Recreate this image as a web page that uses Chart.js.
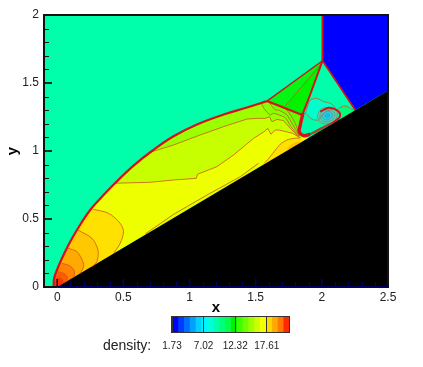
<!DOCTYPE html>
<html lang="en">
<head>
    <meta charset="UTF-8">
    <title>Density contours</title>
    <script src="https://cdn.jsdelivr.net/npm/chart.js"></script>
    <style>
        html, body { margin: 0; padding: 0; background: #fff; }
        #wrap { position: relative; width: 423px; height: 367px; overflow: hidden; filter: blur(0.35px); }
        #flowChart { position: absolute; left: 0; top: 0; }
        #barChart { position: absolute; left: 150px; top: 310px; }
        #barTitle { position: absolute; left: 103px; top: 337px; font: 14px "Liberation Sans", sans-serif; color: #222; }
    </style>
</head>
<body>
<div id="wrap">
    <canvas id="flowChart" width="423" height="367"></canvas>
    <canvas id="barChart" width="170" height="50"></canvas>
    <div id="barTitle">density:</div>
</div>
<script>
    // axis values
    const xTickValues = [0, 0.5, 1, 1.5, 2, 2.5];
    const yTickValues = [0, 0.5, 1, 1.5, 2];
    const xMinorTicks = [0.1, 0.2, 0.3, 0.4, 0.6, 0.7, 0.8, 0.9, 1.1, 1.2, 1.3, 1.4, 1.6, 1.7, 1.8, 1.9, 2.1, 2.2, 2.3, 2.4];
    const yMinorTicks = [0.1, 0.2, 0.3, 0.4, 0.6, 0.7, 0.8, 0.9, 1.1, 1.2, 1.3, 1.4, 1.6, 1.7, 1.8, 1.9];

    // colour bar
    const barEdges = [1.73, 2.71, 3.69, 4.67, 5.65, 6.63, 7.61, 8.59, 9.57, 10.55, 11.53, 12.51, 13.49, 14.47, 15.45, 16.43, 17.41, 18.39, 19.37, 20.35, 21.33];
    const barColors = ['#0000ff', '#003cff', '#006eff', '#00a0ff', '#00d2ff', '#00f5ff', '#00ffdc', '#00ffaa', '#00ff78', '#00ff46',
        '#00f000', '#3cff00', '#6eff00', '#a0ff00', '#cdff00', '#f5ff00', '#ffd700', '#ffaa00', '#ff7800', '#ff2800'];
    const barTicks = [1.73, 7.02, 12.32, 17.61];

    // shock lines as [x, y]
    const bowShock = [[-0.028, 0], [-0.023, 0.064], [-0.002, 0.125], [0.036, 0.211], [0.085, 0.309], [0.149, 0.419], [0.249, 0.566], [0.35, 0.676], [0.438, 0.765], [0.577, 0.893], [0.716, 1.0], [0.879, 1.108], [1.056, 1.195], [1.257, 1.268], [1.434, 1.32], [1.585, 1.367]];
    const machStem = [[2.005, 2], [2.005, 1.664]];
    const upperShock = [[1.585, 1.367], [2.005, 1.664]];
    const rightShock = [[2.005, 1.664], [2.252, 1.301]];
    const reflectedShock = [[1.585, 1.367], [1.852, 1.265]];
    const slipUpper = [[2.005, 1.664], [1.91, 1.41], [1.858, 1.28]];
    const slipLower = [[1.858, 1.28], [1.837, 1.191], [1.829, 1.142], [1.862, 1.113], [1.912, 1.123]];
    const slipTail = [[1.912, 1.123], [2.001, 1.169], [2.076, 1.204]];
    const vortexArc = [[2.076, 1.204], [2.126, 1.24], [2.139, 1.265], [2.114, 1.301], [2.051, 1.318], [1.988, 1.289]];

    // contour lines
    const contour1 = [[0.716, 0.995], [0.879, 1.044], [1.081, 1.118], [1.257, 1.179], [1.434, 1.235], [1.509, 1.24], [1.572, 1.24], [1.605, 1.252], [1.623, 1.215], [1.66, 1.232], [1.71, 1.224], [1.761, 1.167], [1.824, 1.105]];
    const contour2 = [[0.438, 0.763], [0.703, 0.77], [0.879, 0.787], [1.051, 0.799], [1.06, 0.829], [1.207, 0.885], [1.333, 0.971], [1.484, 1.093], [1.572, 1.147], [1.59, 1.167], [1.615, 1.123], [1.648, 1.154], [1.678, 1.154], [1.779, 1.13], [1.837, 1.096]];
    const contour3 = [[1.837, 1.096], [1.786, 1.093], [1.736, 1.081], [1.686, 1.05], [1.597, 0.944], [1.565, 0.91]];
    const fan1 = [[1.648, 1.343], [1.686, 1.333], [1.736, 1.301], [1.786, 1.228], [1.837, 1.113]];
    const fan2 = [[1.6, 1.36], [1.648, 1.301], [1.673, 1.301], [1.736, 1.265], [1.774, 1.204], [1.832, 1.11]];
    const fan3 = [[1.54, 1.35], [1.572, 1.301], [1.61, 1.265], [1.635, 1.277], [1.723, 1.245], [1.767, 1.179], [1.829, 1.108]];
    const sliver = [[0.665, 0.39], [0.879, 0.534], [1.131, 0.676], [1.383, 0.811], [1.522, 0.91]];
    const arc1 = [[0.274, 0.571], [0.388, 0.542], [0.476, 0.468], [0.501, 0.407], [0.476, 0.322], [0.426, 0.246]];
    const arc2 = [[0.156, 0.419], [0.262, 0.358], [0.308, 0.272], [0.3, 0.186], [0.262, 0.149]];
    const arc3 = [[0.078, 0.285], [0.149, 0.26], [0.194, 0.186], [0.199, 0.149], [0.174, 0.1]];
    const arc4 = [[0.036, 0.174], [0.098, 0.154], [0.131, 0.113], [0.123, 0.071]];
    const arc5 = [[0.002, 0.113], [0.048, 0.101], [0.078, 0.071], [0.068, 0.039]];
    const arc6 = [[-0.008, 0.064], [0.023, 0.064], [0.048, 0.039], [0.036, 0.021]];
    const greenContour = [[1.723, 1.331], [2.0, 1.645]];
    const sideContour = [[2.126, 1.314], [2.177, 1.331], [2.24, 1.301]];

    // closed regions
    const leftWall = [[-0.1, 0], [-0.1, 2], [2.5, 2], [2.5, 0]];
    const preShock = [[2.005, 2], [2.5, 2], [2.5, 1.443], [2.252, 1.301], [2.005, 1.664]];
    const greenWedge = [[1.585, 1.367], [2.005, 1.664], [1.852, 1.265]];
    const greenUpper = [[1.585, 1.367], [2.005, 1.664], [1.723, 1.331]];
    const innerZone = [[2.005, 1.664], [2.252, 1.301], [2.1, 1.212], [1.95, 1.125], [1.862, 1.113], [1.829, 1.142], [1.837, 1.191], [1.858, 1.28], [1.91, 1.41]];
    const cyanPatch = [[1.875, 1.279], [1.912, 1.375], [1.963, 1.387], [2.013, 1.363], [2.063, 1.351], [2.101, 1.316], [2.025, 1.287], [1.973, 1.228], [1.927, 1.233]];
    const sidePatch = [[2.126, 1.314], [2.177, 1.331], [2.24, 1.301], [2.252, 1.301], [2.14, 1.235], [2.139, 1.265]];
    const underPatch = [[1.862, 1.113], [1.912, 1.123], [2.001, 1.169], [2.076, 1.204], [2.126, 1.24], [2.14, 1.235], [1.95, 1.125]];
    const hotSpot = [[1.731, 1.015], [1.761, 1.044], [1.806, 1.066], [1.837, 1.066], [1.784, 1.015]];
    const loop1 = [[1.965, 1.25], [1.988, 1.301], [2.041, 1.32], [2.093, 1.309], [2.116, 1.272], [2.101, 1.228], [2.048, 1.202], [1.995, 1.206]];
    const loop2 = [[1.984, 1.253], [2.002, 1.292], [2.041, 1.305], [2.08, 1.297], [2.098, 1.268], [2.086, 1.235], [2.046, 1.216], [2.006, 1.22]];
    const loop3 = [[2.003, 1.255], [2.015, 1.28], [2.041, 1.29], [2.067, 1.285], [2.079, 1.266], [2.071, 1.244], [2.044, 1.231], [2.018, 1.233]];
    const loop4 = [[2.022, 1.258], [2.028, 1.27], [2.041, 1.275], [2.054, 1.272], [2.06, 1.263], [2.056, 1.252], [2.043, 1.246], [2.03, 1.247]];
    const wedge = [[0, 0], [2.5, 1.443], [2.5, 0]];

    // polygon under a contour: contour, down to the wall, back to the apex and up the bow shock
    function underContour(line, wallEnd) {
        const lowerBow = bowShock.filter(p => p[1] < line[0][1]);
        return [...line, ...wallEnd, [0, 0], ...lowerBow];
    }

    const toPoints = pts => pts.map(p => ({ x: p[0], y: p[1] }));
    const lineRed = '#d8101c';
    const contourColor = 'rgba(205,85,35,0.8)';
    const wallEnd = [[1.9, 1.097]];
    const postShock = [...bowShock, [1.852, 1.265], [1.837, 1.191], [1.829, 1.142], [1.862, 1.113], [1.9, 1.097], [0, 0]];

    // back to front: points, colour, tension
    const fills = [
        [leftWall, '#00ffaa', 0],
        [preShock, '#0000ff', 0],
        [postShock, '#60ff00', 0],
        [greenWedge, '#00f200', 0],
        [greenUpper, '#04f614', 0],
        [underContour(fan1, wallEnd), '#74ff00', 0],
        [underContour(fan2, wallEnd), '#86ff00', 0],
        [underContour(fan3, wallEnd), '#9cff00', 0],
        [underContour(contour1, wallEnd), '#c8ff00', 0],
        [underContour(contour2, wallEnd), '#eeff00', 0],
        [[...contour3, [1.9, 1.05]], '#ffe100', 0],
        [[...sliver, [1.52, 0.85], [0.665, 0.36]], '#dcff00', 0],
        [hotSpot, '#ffc000', 0],
        [underContour(arc1, []), '#ffe100', 0.3],
        [underContour(arc2, []), '#ffc800', 0.3],
        [underContour(arc3, []), '#ffaa00', 0.3],
        [underContour(arc4, []), '#ff8200', 0.3],
        [underContour(arc5, []), '#ff5a00', 0.3],
        [underContour(arc6, []), '#ff3000', 0.3],
        [innerZone, '#00ffaa', 0],
        [cyanPatch, '#00ffcc', 0.2],
        [sidePatch, '#00ff78', 0],
        [underPatch, '#00dc3c', 0],
        [loop1, '#46d8a8', 0.4],
        [loop2, '#3cd2c0', 0.4],
        [loop3, '#28d2e0', 0.4],
        [loop4, '#00c8ff', 0.4],
        [wedge, '#000000', 0]
    ];
    // points, colour, width, tension
    const lines = [
        [contour1, contourColor, 1, 0], [contour2, contourColor, 1, 0], [contour3, contourColor, 1, 0.2],
        [fan1, contourColor, 1, 0.2], [fan2, contourColor, 1, 0.2], [fan3, contourColor, 1, 0.2], [sliver, contourColor, 1, 0],
        [arc1, contourColor, 1, 0.3], [arc2, contourColor, 1, 0.3], [arc3, contourColor, 1, 0.3], [arc4, contourColor, 1, 0.3], [arc5, contourColor, 1, 0.3], [arc6, contourColor, 1, 0.3],
        [greenContour, contourColor, 1, 0], [sideContour, contourColor, 1, 0.3],
        [[...cyanPatch, cyanPatch[0]], contourColor, 1, 0.2],
        [[...loop1, loop1[0]], '#6e9e84', 1, 0.4], [[...loop2, loop2[0]], '#6e9e94', 1, 0.4], [[...loop3, loop3[0]], '#5e9ea4', 1, 0.4], [[...loop4, loop4[0]], '#4e9eb4', 1, 0.4],
        [bowShock, lineRed, 2.2, 0.4], [machStem, lineRed, 2, 0], [upperShock, lineRed, 1.4, 0], [rightShock, lineRed, 1.6, 0],
        [reflectedShock, lineRed, 2.2, 0], [slipUpper, lineRed, 2, 0.2], [slipLower, lineRed, 3.4, 0.3], [slipTail, 'rgba(216,16,28,0.8)', 2, 0.2], [vortexArc, lineRed, 2, 0.3]
    ];

    const fillSets = fills.map(f => ({
        data: toPoints([...f[0], f[0][0]]),
        showLine: true, fill: 'shape', backgroundColor: f[1], borderWidth: 0, pointRadius: 0, tension: f[2]
    }));
    const lineSets = lines.map(l => ({
        data: toPoints(l[0]),
        showLine: true, fill: false, borderColor: l[1], borderWidth: l[2], pointRadius: 0, tension: l[3]
    }));
    // Chart.js paints dataset 0 last, so reverse
    const flowSets = [...fillSets, ...lineSets].reverse();

    // inward ticks and the frame
    const framePlugin = {
        id: 'frame',
        afterDatasetsDraw(chart) {
            const { ctx, chartArea: a, scales: { x, y } } = chart;
            const seg = (x1, y1, x2, y2, color, width) => {
                ctx.strokeStyle = color;
                ctx.lineWidth = width;
                ctx.beginPath();
                ctx.moveTo(x1, y1);
                ctx.lineTo(x2, y2);
                ctx.stroke();
            };
            ctx.save();
            yMinorTicks.forEach(v => { const p = Math.round(y.getPixelForValue(v)) + 0.5; seg(a.left, p, a.left + 5, p, '#111', 1); });
            yTickValues.forEach(v => { const p = y.getPixelForValue(v); seg(a.left, p, a.left + 8, p, '#000', 1.6); });
            xMinorTicks.forEach(v => { const p = Math.round(x.getPixelForValue(v)) + 0.5; seg(p, a.bottom, p, a.bottom - 5, '#000080', 1); });
            xTickValues.forEach(v => { const p = x.getPixelForValue(v); seg(p, a.bottom, p, a.bottom - 8, v === 0 ? '#000' : '#000080', 1.4); });
            const zero = x.getPixelForValue(0);
            seg(a.left - 1, a.top, a.right + 1, a.top, '#111', 2);
            seg(a.left, a.top, a.left, a.bottom, '#111', 2);
            seg(a.right, a.top, a.right, a.bottom, '#111', 2);
            seg(a.left - 1, a.bottom, zero, a.bottom, '#111', 2);
            seg(zero, a.bottom, a.right + 1, a.bottom, '#000060', 2);
            ctx.restore();
        }
    };

    new Chart(document.getElementById('flowChart'), {
        type: 'scatter',
        data: { datasets: flowSets },
        plugins: [framePlugin],
        options: {
            responsive: false,
            animation: false,
            events: [],
            layout: { padding: { left: 4, right: 35, top: 15, bottom: 50 } },
            plugins: { legend: { display: false }, tooltip: { enabled: false } },
            scales: {
                x: {
                    type: 'linear', min: -0.1, max: 2.5,
                    afterBuildTicks: s => { s.ticks = xTickValues.map(v => ({ value: v })); },
                    afterFit: s => { s.height = 30; },
                    grid: { display: false, drawTicks: false },
                    border: { display: false },
                    ticks: { color: '#222', font: { family: 'Liberation Sans', size: 12 }, padding: 3, maxRotation: 0, callback: v => String(v) },
                    title: { display: true, text: 'x', color: '#000', padding: 0, font: { family: 'Liberation Sans', size: 15, weight: 'bold' } }
                },
                y: {
                    type: 'linear', min: 0, max: 2,
                    afterBuildTicks: s => { s.ticks = yTickValues.map(v => ({ value: v })); },
                    afterFit: s => { s.width = 40; },
                    grid: { display: false, drawTicks: false },
                    border: { display: false },
                    ticks: { color: '#222', font: { family: 'Liberation Sans', size: 12 }, padding: 5, callback: v => String(v) },
                    title: { display: true, text: 'y', color: '#000', padding: 0, font: { family: 'Liberation Sans', size: 15, weight: 'bold' } }
                }
            }
        }
    });

    const barFrame = {
        id: 'barFrame',
        afterDraw(chart) {
            const { ctx, chartArea: a } = chart;
            ctx.save();
            ctx.strokeStyle = '#333';
            ctx.lineWidth = 1;
            ctx.strokeRect(a.left - 0.5, a.top - 0.5, a.right - a.left + 1, a.bottom - a.top + 1);
            ctx.restore();
        }
    };

    new Chart(document.getElementById('barChart'), {
        type: 'bar',
        data: {
            labels: ['density'],
            datasets: barColors.map((c, i) => ({
                data: [[barEdges[i], barEdges[i + 1]]],
                backgroundColor: c,
                barPercentage: 1, categoryPercentage: 1, grouped: false
            }))
        },
        plugins: [barFrame],
        options: {
            indexAxis: 'y',
            responsive: false,
            animation: false,
            events: [],
            layout: { padding: { left: 22, right: 31, top: 7, bottom: 0 } },
            plugins: { legend: { display: false }, tooltip: { enabled: false } },
            scales: {
                y: { display: false },
                x: {
                    type: 'linear', min: 1.73, max: 21.33,
                    afterBuildTicks: s => { s.ticks = barTicks.map(v => ({ value: v })); },
                    afterFit: s => { s.height = 28; },
                    border: { display: false },
                    grid: { z: 1, color: '#333', drawTicks: false },
                    ticks: { color: '#222', font: { family: 'Liberation Sans', size: 10 }, padding: 8, maxRotation: 0, autoSkip: false, callback: v => v.toFixed(2) }
                }
            }
        }
    });
</script>
</body>
</html>
